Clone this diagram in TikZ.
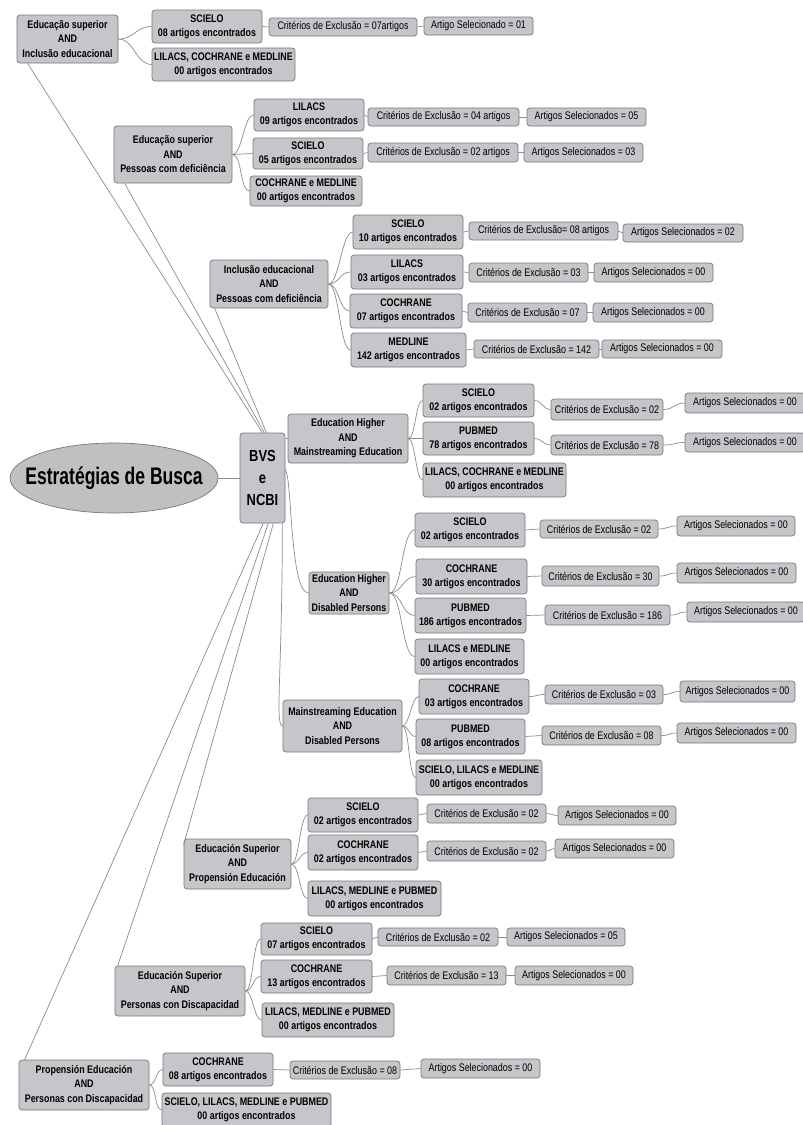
\documentclass[tikz,border=0pt]{standalone}
\usepackage{fontspec}
\setmainfont{Liberation Sans}[FakeStretch=0.81]
\newfontfamily\rootfont{Liberation Sans}[FakeStretch=0.73]
\usetikzlibrary{shapes.geometric}
\definecolor{boxfill}{RGB}{198,198,202}
\definecolor{boxline}{RGB}{120,120,125}
\definecolor{linkcol}{RGB}{140,140,140}
\definecolor{rootfill}{RGB}{192,192,194}
\newcommand\mmnode[7]{%
  \node[#2, minimum width={#5-#3}, minimum height={#6-#4}] (#1) at ({(#3+#5)/2},{(#4+#6)/2}) {#7};}
\newcommand\mmlink[3]{\draw[link] (#1.east) .. controls +(#3,0) and +(-#3,0) .. (#2.west);}
\begin{document}
\begin{tikzpicture}[x=1pt,y=-1pt,
  basebox/.style={rectangle, rounded corners=3pt, draw=boxline, fill=boxfill, line width=0.7pt, inner sep=1pt, align=center},
  topic/.style={basebox, font=\bfseries\fontsize{11}{14.5}\selectfont},
  db/.style={basebox, font=\bfseries\fontsize{11}{14}\selectfont},
  res/.style={basebox, font=\fontsize{11}{12}\selectfont},
  link/.style={draw=linkcol, line width=0.7pt}]
\fill[white] (0,0) rectangle (803,1125);
\useasboundingbox (0,0) rectangle (803,1125);

% root and hub
\node[ellipse, draw=boxline, fill=rootfill, line width=0.7pt, minimum width=208, minimum height=70, inner sep=0pt,
  label={[font=\rootfont\bfseries\fontsize{24}{28}\selectfont]center:Estratégias de Busca}] (root) at (114,478) {};
\mmnode{bvs}{basebox, font=\bfseries\fontsize{16}{22}\selectfont}{240}{433}{285}{523}{BVS\\e\\NCBI}

% topics
\mmnode{T1}{topic}{17}{15}{118}{63}{Educação superior\\AND\\Inclusão educacional}
\mmnode{T2}{topic}{114}{126}{232}{183}{Educação superior\\AND\\Pessoas com deficiência}
\mmnode{T3}{topic}{210}{260}{328}{308}{Inclusão educacional\\AND\\Pessoas com deficiência}
\mmnode{T4}{topic}{288}{414}{408}{463}{Education Higher\\AND\\Mainstreaming Education}
\mmnode{T5}{topic}{309}{572}{389}{614}{Education Higher\\AND\\Disabled Persons}
\mmnode{T6}{topic}{283}{700}{402}{752}{Mainstreaming Education\\AND\\Disabled Persons}
\mmnode{T7}{topic}{184}{839}{291}{889}{Educación Superior\\AND\\Propensión Educación}
\mmnode{T8}{topic}{115}{966}{245}{1016}{Educación Superior\\AND\\Personas con Discapacidad}
\mmnode{T9}{topic}{19}{1060}{149}{1110}{Propensión Educación\\AND\\Personas con Discapacidad}

% T1
\mmnode{d11}{db}{152}{10}{262}{43}{SCIELO\\08 artigos encontrados}
\mmnode{d12}{db}{152}{48}{295}{81}{LILACS, COCHRANE e MEDLINE\\00 artigos encontrados}
\mmnode{c11}{res}{269}{18}{417}{36}{Critérios de Exclusão = 07artigos}
\mmnode{a11}{res}{424}{17}{533}{35}{Artigo Selecionado = 01}
% T2
\mmnode{d21}{db}{254}{99}{364}{131}{LILACS\\09 artigos encontrados}
\mmnode{d22}{db}{253}{138}{363}{169}{SCIELO\\05 artigos encontrados}
\mmnode{d23}{db}{250}{176}{362}{206}{COCHRANE e MEDLINE\\00 artigos encontrados}
\mmnode{c21}{res}{368}{108}{519}{126}{Critérios de Exclusão = 04 artigos}
\mmnode{a21}{res}{527}{108}{646}{126}{Artigos Selecionados = 05}
\mmnode{c22}{res}{368}{143}{518}{162}{Critérios de Exclusão = 02 artigos}
\mmnode{a22}{res}{524}{143}{643}{162}{Artigos Selecionados = 03}
% T3
\mmnode{d31}{db}{353}{215}{463}{249}{SCIELO\\10 artigos encontrados}
\mmnode{d32}{db}{351}{255}{463}{289}{LILACS\\03 artigos encontrados}
\mmnode{d33}{db}{350}{294}{462}{328}{COCHRANE\\07 artigos encontrados}
\mmnode{d34}{db}{351}{333}{466}{367}{MEDLINE\\142 artigos encontrados}
\mmnode{c31}{res}{469}{222}{618}{240}{Critérios de Exclusão= 08 artigos}
\mmnode{a31}{res}{623}{224}{743}{242}{Artigos Selecionados = 02}
\mmnode{c32}{res}{469}{263}{588}{282}{Critérios de Exclusão = 03}
\mmnode{a32}{res}{594}{263}{713}{282}{Artigos Selecionados = 00}
\mmnode{c33}{res}{468}{303}{587}{322}{Critérios de Exclusão = 07}
\mmnode{a33}{res}{593}{303}{713}{322}{Artigos Selecionados = 00}
\mmnode{c34}{res}{474}{340}{599}{358}{Critérios de Exclusão = 142}
\mmnode{a34}{res}{602}{340}{722}{358}{Artigos Selecionados = 00}
% T4
\mmnode{d41}{db}{423}{384}{534}{417}{SCIELO\\02 artigos encontrados}
\mmnode{d42}{db}{423}{422}{534}{455}{PUBMED\\78 artigos encontrados}
\mmnode{d43}{db}{423}{463}{566}{497}{LILACS, COCHRANE e MEDLINE\\00 artigos encontrados}
\mmnode{c41}{res}{551}{399}{663}{420}{Critérios de Exclusão = 02}
\mmnode{a41}{res}{685}{393}{805}{413}{Artigos Selecionados = 00}
\mmnode{c42}{res}{551}{435}{663}{455}{Critérios de Exclusão = 78}
\mmnode{a42}{res}{685}{433}{805}{452}{Artigos Selecionados = 00}
% T5
\mmnode{d51}{db}{415}{513}{525}{547}{SCIELO\\02 artigos encontrados}
\mmnode{d52}{db}{416}{559}{527}{594}{COCHRANE\\30 artigos encontrados}
\mmnode{d53}{db}{415}{598}{526}{633}{PUBMED\\186 artigos encontrados}
\mmnode{d54}{db}{415}{639}{524}{674}{LILACS e MEDLINE\\00 artigos encontrados}
\mmnode{c51}{res}{540}{520}{658}{538}{Critérios de Exclusão = 02}
\mmnode{a51}{res}{677}{516}{795}{536}{Artigos Selecionados = 00}
\mmnode{c52}{res}{542}{566}{659}{586}{Critérios de Exclusão = 30}
\mmnode{a52}{res}{677}{563}{796}{583}{Artigos Selecionados = 00}
\mmnode{c53}{res}{545}{605}{670}{625}{Critérios de Exclusão = 186}
\mmnode{a53}{res}{687}{602}{805}{622}{Artigos Selecionados = 00}
% T6
\mmnode{d61}{db}{419}{679}{529}{714}{COCHRANE\\03 artigos encontrados}
\mmnode{d62}{db}{416}{719}{525}{754}{PUBMED\\08 artigos encontrados}
\mmnode{d63}{db}{416}{760}{542}{795}{SCIELO, LILACS e MEDLINE\\00 artigos encontrados}
\mmnode{c61}{res}{545}{685}{663}{704}{Critérios de Exclusão = 03}
\mmnode{a61}{res}{680}{681}{795}{702}{Artigos Selecionados = 00}
\mmnode{c62}{res}{542}{726}{661}{745}{Critérios de Exclusão = 08}
\mmnode{a62}{res}{677}{723}{796}{743}{Artigos Selecionados = 00}
% T7
\mmnode{d71}{db}{308}{798}{418}{832}{SCIELO\\02 artigos encontrados}
\mmnode{d72}{db}{308}{835}{418}{870}{COCHRANE\\02 artigos encontrados}
\mmnode{d73}{db}{308}{881}{441}{916}{LILACS, MEDLINE e PUBMED\\00 artigos encontrados}
\mmnode{c71}{res}{427}{804}{546}{823}{Critérios de Exclusão = 02}
\mmnode{a71}{res}{558}{806}{676}{825}{Artigos Selecionados = 00}
\mmnode{c72}{res}{427}{841}{546}{861}{Critérios de Exclusão = 02}
\mmnode{a72}{res}{555}{839}{674}{858}{Artigos Selecionados = 00}
% T8
\mmnode{d81}{db}{261}{923}{372}{955}{SCIELO\\07 artigos encontrados}
\mmnode{d82}{db}{261}{960}{372}{993}{COCHRANE\\13 artigos encontrados}
\mmnode{d83}{db}{262}{1003}{394}{1037}{LILACS, MEDLINE e PUBMED\\00 artigos encontrados}
\mmnode{c81}{res}{378}{928}{498}{946}{Critérios de Exclusão = 02}
\mmnode{a81}{res}{507}{928}{625}{946}{Artigos Selecionados = 05}
\mmnode{c82}{res}{387}{966}{506}{985}{Critérios de Exclusão = 13}
\mmnode{a82}{res}{515}{966}{633}{985}{Artigos Selecionados = 00}
% T9
\mmnode{d91}{db}{163}{1053}{273}{1086}{COCHRANE\\08 artigos encontrados}
\mmnode{d92}{db}{162}{1093}{331}{1127}{SCIELO, LILACS, MEDLINE e PUBMED\\00 artigos encontrados}
\mmnode{c91}{res}{290}{1061}{400}{1079}{Critérios de Exclusão = 08}
\mmnode{a91}{res}{421}{1059}{540}{1078}{Artigos Selecionados = 00}

% connectors: root and hub
\draw[link] (root) -- (bvs);
\draw[link] ([xshift=-23pt]bvs.north east) -- ([xshift=11pt]T1.south west);
\draw[link] ([xshift=-21pt]bvs.north east) -- ([xshift=11pt]T2.south west);
\draw[link] ([xshift=-19pt]bvs.north east) -- ([xshift=5pt]T3.south west);
\draw[link] ([yshift=-6pt]bvs.north east) -- (T4.west);
\draw[link] ([yshift=-37pt]bvs.north east) .. controls +(7,10) and +(-19,0) .. (T5.west);
\draw[link] ([xshift=-3pt]bvs.south east) .. controls +(0,150) and +(-8,0) .. (T6.west);
\draw[link] ([xshift=-12pt]bvs.south east) -- ([yshift=-6pt]T7.north west);
\draw[link] ([xshift=-17pt]bvs.south east) -- ([xshift=3pt]T8.north west);
\draw[link] ([xshift=-22pt]bvs.south east) -- ([xshift=6pt]T9.north west);

% topic -> databases
\mmlink{T1}{d11}{16}\mmlink{T1}{d12}{16}
\mmlink{T2}{d21}{10}\mmlink{T2}{d22}{10}\mmlink{T2}{d23}{10}
\mmlink{T3}{d31}{11}\mmlink{T3}{d32}{11}\mmlink{T3}{d33}{11}\mmlink{T3}{d34}{11}
\mmlink{T4}{d41}{7}\mmlink{T4}{d42}{7}\mmlink{T4}{d43}{7}
\mmlink{T5}{d51}{13}\mmlink{T5}{d52}{13}\mmlink{T5}{d53}{13}\mmlink{T5}{d54}{13}
\mmlink{T6}{d61}{7}\mmlink{T6}{d62}{7}\mmlink{T6}{d63}{7}
\mmlink{T7}{d71}{8}\mmlink{T7}{d72}{8}\mmlink{T7}{d73}{8}
\mmlink{T8}{d81}{8}\mmlink{T8}{d82}{8}\mmlink{T8}{d83}{8}
\mmlink{T9}{d91}{7}\mmlink{T9}{d92}{7}

% databases -> criteria -> selected
\mmlink{d11}{c11}{3}\mmlink{c11}{a11}{3}
\mmlink{d21}{c21}{3}\mmlink{c21}{a21}{3}
\mmlink{d22}{c22}{3}\mmlink{c22}{a22}{3}
\mmlink{d31}{c31}{3}\mmlink{c31}{a31}{3}
\mmlink{d32}{c32}{3}\mmlink{c32}{a32}{3}
\mmlink{d33}{c33}{3}\mmlink{c33}{a33}{3}
\mmlink{d34}{c34}{4}\mmlink{c34}{a34}{2}
\mmlink{d41}{c41}{8}\mmlink{c41}{a41}{11}
\mmlink{d42}{c42}{8}\mmlink{c42}{a42}{11}
\mmlink{d51}{c51}{8}\mmlink{c51}{a51}{9}
\mmlink{d52}{c52}{8}\mmlink{c52}{a52}{9}
\mmlink{d53}{c53}{10}\mmlink{c53}{a53}{9}
\mmlink{d61}{c61}{8}\mmlink{c61}{a61}{9}
\mmlink{d62}{c62}{8}\mmlink{c62}{a62}{9}
\mmlink{d71}{c71}{4}\mmlink{c71}{a71}{6}
\mmlink{d72}{c72}{4}\mmlink{c72}{a72}{4}
\mmlink{d81}{c81}{3}\mmlink{c81}{a81}{4}
\mmlink{d82}{c82}{7}\mmlink{c82}{a82}{4}
\mmlink{d91}{c91}{8}\mmlink{c91}{a91}{10}
\end{tikzpicture}
\end{document}
